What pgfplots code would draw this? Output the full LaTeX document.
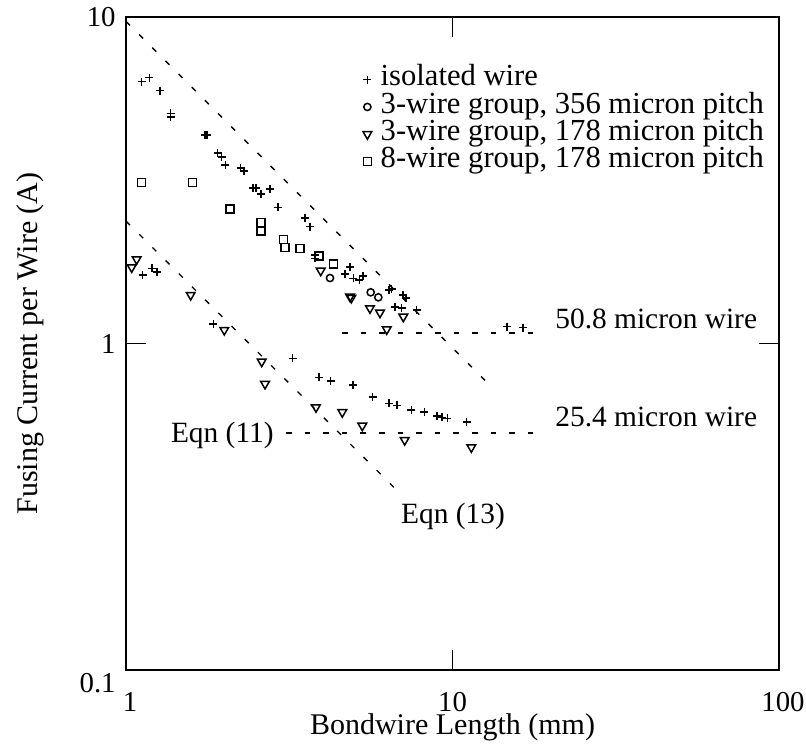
\documentclass[border=0pt]{standalone}
\usepackage{pgfplots}
\pgfplotsset{compat=1.18}
\usepackage{fontspec}
\setmainfont{Liberation Serif}

\pgfplotstableread{
x y
1.117 6.34
1.179 6.52
1.271 5.95
1.370 5.07
1.370 4.93
1.746 4.35
1.774 4.35
1.909 3.84
1.964 3.73
2.017 3.52
2.245 3.45
2.298 3.38
2.454 2.99
2.501 2.99
2.591 2.87
2.761 2.97
2.915 2.61
3.534 2.42
3.661 2.28
3.793 1.867
3.793 1.824
4.855 1.719
4.686 1.633
4.969 1.584
5.183 1.565
5.309 1.609
6.403 1.458
6.513 1.466
7.054 1.408
7.204 1.378
6.666 1.296
6.989 1.282
7.769 1.266
14.66 1.126
16.44 1.119
1.125 1.621
1.199 1.699
1.242 1.659
1.851 1.147
3.240 0.901
3.908 0.788
4.236 0.769
4.947 0.746
5.696 0.687
6.403 0.656
6.775 0.646
7.487 0.626
8.197 0.616
8.946 0.600
9.267 0.594
9.641 0.590
11.05 0.574
}\isolated

\pgfplotstableread{
x y
4.215 1.587
5.616 1.435
5.927 1.385
}\threewideA

\pgfplotstableread{
x y
3.948 1.671
4.855 1.391
4.90 1.380
5.588 1.282
5.997 1.243
7.069 1.208
6.289 1.105
1.078 1.811
1.041 1.711
1.578 1.408
2.000 1.100
2.604 0.880
2.666 0.752
3.819 0.638
4.597 0.616
5.293 0.560
7.139 0.506
11.42 0.481
}\threewideB

\pgfplotstableread{
x y
1.117 3.11
1.601 3.11
2.082 2.58
2.591 2.35
2.591 2.21
3.032 2.085
3.069 1.971
3.412 1.957
3.900 1.854
4.314 1.752
}\eightwide

\begin{document}
\fontsize{15pt}{18pt}\selectfont
\begin{tikzpicture}[font=\fontsize{15pt}{18pt}\selectfont]
\path[use as bounding box] (-63pt,-38pt) rectangle (340pt,335pt);
\begin{axis}[
  at={(0,0)}, anchor=south west,
  scale only axis, width=326.5pt, height=326.5pt,
  xmode=log, ymode=log,
  xmin=1, xmax=100, ymin=0.1, ymax=10,
  xtick={1,10,100}, xticklabels={\hspace{4pt}1,10,\hspace{4pt}100},
  ytick={0.1,1,10}, yticklabels={\raisebox{-6.5pt}[\height][\depth]{0.1},1,10},
  xminorticks=false, yminorticks=false,
  tick align=inside, major tick length=10pt,
  axis line style={line width=0.75pt},
  major tick style={line width=0.75pt, black},
  tick label style={font=\fontsize{14.4pt}{17pt}\selectfont},
  xticklabel style={yshift=-6pt},
  /pgf/number format/assume math mode=true,
  xlabel={Bondwire Length (mm)},
  ylabel={Fusing Current per Wire (A)},
  label style={font=\fontsize{16pt}{19pt}\selectfont},
  every axis x label/.style={at={(axis description cs:0.5,-0.088)}, anchor=center},
  every axis y label/.style={at={(axis description cs:-0.147,0.5)}, rotate=90, anchor=center},
  legend image code/.code={\draw[#1] plot coordinates {(0pt,0pt)};},
  legend cell align=left,
  legend style={draw=none, fill=none, inner sep=0pt, outer sep=0pt,
    at={(axis description cs:0.363,0.925)}, anchor=north west,
    row sep=0pt, column sep=4.5pt,
    font=\fontsize{15.3pt}{16pt}\selectfont,
    nodes={inner sep=0pt, text height=10pt, text depth=3.65pt}},
]
\addplot[only marks, mark=+, mark size=2pt, mark options={line width=0.8pt, black}] table {\isolated};
\addlegendentry{isolated wire}
\addplot[only marks, mark=o, mark size=1.8pt, mark options={line width=0.75pt, black}] table {\threewideA};
\addlegendentry{3-wire group, 356 micron pitch}
\addplot[only marks, mark=triangle, mark size=2.5pt, mark options={line width=0.75pt, black, rotate=180}] table {\threewideB};
\addlegendentry{3-wire group, 178 micron pitch}
\addplot[only marks, mark=square, mark size=2pt, mark options={line width=0.75pt, black}] table {\eightwide};
\addlegendentry{8-wire group, 178 micron pitch}

\addplot[forget plot, black, line width=0.65pt, dash pattern=on 2.8pt off 6.5pt] coordinates {(1,9.7) (12.9,0.752)};
\addplot[forget plot, black, line width=0.65pt, dash pattern=on 2.8pt off 6.5pt] coordinates {(1,2.37) (6.76,0.355)};
\addplot[forget plot, black, line width=0.65pt, dash pattern=on 2.8pt off 6.5pt] coordinates {(4.59,1.077) (17.6,1.077)};
\addplot[forget plot, black, line width=0.65pt, dash pattern=on 2.8pt off 6.5pt] coordinates {(3.09,0.532) (17.9,0.532)};

\node[anchor=base west, inner sep=0pt, font=\fontsize{14.7pt}{17pt}\selectfont] at (axis cs:20.6,1.113) {50.8 micron wire};
\node[anchor=base west, inner sep=0pt, font=\fontsize{14.7pt}{17pt}\selectfont] at (axis cs:20.6,0.556) {25.4 micron wire};
\node[anchor=base east, inner sep=0pt, font=\fontsize{14.7pt}{17pt}\selectfont] at (axis cs:2.84,0.496) {Eqn (11)};
\node[anchor=base west, inner sep=0pt, font=\fontsize{14.7pt}{17pt}\selectfont] at (axis cs:6.94,0.2813) {Eqn (13)};
\end{axis}
\end{tikzpicture}
\end{document}
